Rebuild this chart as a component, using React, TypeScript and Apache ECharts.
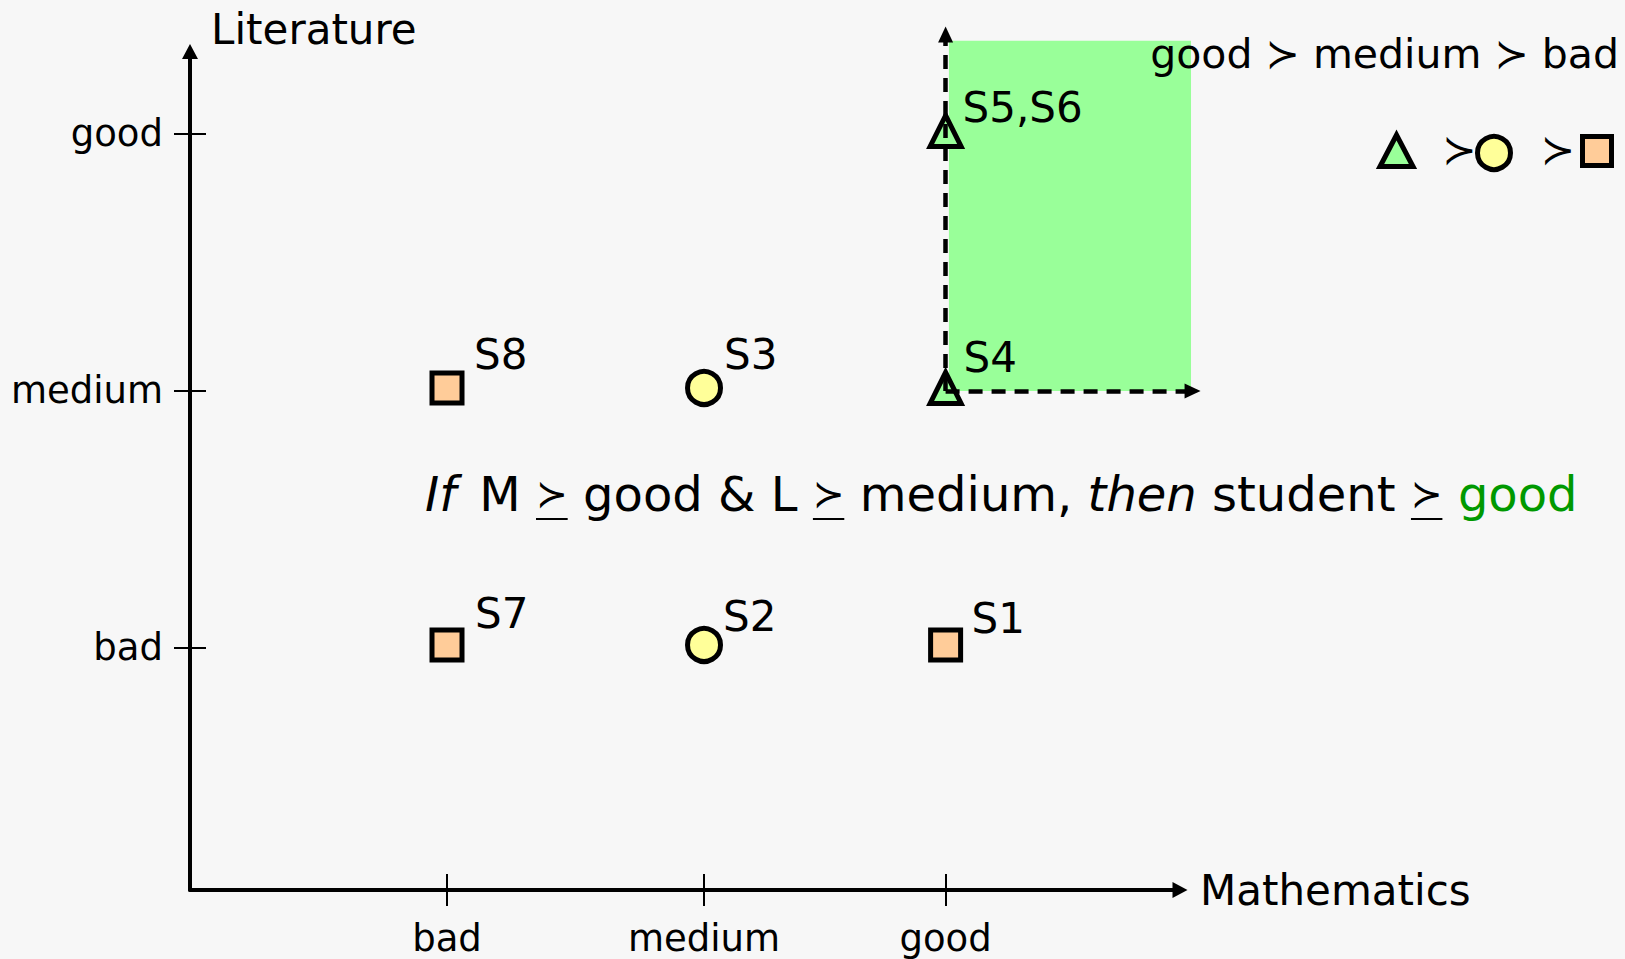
import React, { useEffect, useRef } from 'react';
import * as echarts from 'echarts';

// ---- data ----
const levels = ['bad', 'medium', 'good'];
// position of each level along the Mathematics axis
const mathLevelPos = [1, 2, 2.94];
// position of each level along the Literature axis
const litLevelPos = [1, 2, 3];

const students = ['S1', 'S2', 'S3', 'S4', 'S5', 'S6', 'S7', 'S8'];
const studentMath = ['good', 'medium', 'medium', 'good', 'good', 'good', 'bad', 'bad'];
const studentLit = ['bad', 'bad', 'medium', 'medium', 'good', 'good', 'bad', 'medium'];
const studentClass = ['bad', 'medium', 'medium', 'good', 'good', 'good', 'bad', 'bad'];

// rule region  (M >= good & L >= medium)
const ruleAreaMath = [2.953, 3.895];
const ruleAreaLit = [2, 3.362];
const ruleArrowEndMath = 3.901;
const ruleArrowEndLit = 3.387;

const axisMath = { min: 0, max: 3.852 };
const axisLit = { min: 0.058, max: 3.321 };
// wider frame (same scale) that holds the rule region and its arrows
const frameMath = { min: 0, max: 4 };
const frameLit = { min: 0.058, max: 3.5 };

// ---- styles ----
const FONT = 'DejaVu Sans';
const classStyle: Record<string, any> = {
  good: { symbol: 'triangle', size: [31, 31], color: '#99ff99' },
  medium: { symbol: 'circle', size: 33, color: '#ffff99' },
  bad: { symbol: 'rect', size: 30, color: '#ffcc99' },
};
const labelOffsets: Record<string, number[]> = {
  S1: [26, -26],
  S2: [19, -28],
  S3: [20, -33],
  S4: [18, -30],
  'S5,S6': [17, -23],
  S7: [28, -31],
  S8: [27, -33],
};

const RULE_FS = 48;
const RULE_SYM_FS = 38;
const RULE_LH = 58;
const underlineUri =
  'data:image/svg+xml;utf8,' +
  encodeURIComponent(
    `<svg xmlns="http://www.w3.org/2000/svg" width="10" height="${RULE_LH}" viewBox="0 0 10 ${RULE_LH}" preserveAspectRatio="none"><rect x="0" y="53" width="10" height="2" fill="#000"/></svg>`
  );

function levelName(v: number, pos: number[]) {
  let best = 0;
  for (let i = 0; i < pos.length; i++) {
    if (Math.abs(pos[i] - v) < Math.abs(pos[best] - v)) best = i;
  }
  return levels[best];
}

function buildSeriesData(cls: string) {
  const groups: { key: string; names: string[]; m: number; l: number }[] = [];
  students.forEach((s, i) => {
    if (studentClass[i] !== cls) return;
    const m = mathLevelPos[levels.indexOf(studentMath[i])];
    const l = litLevelPos[levels.indexOf(studentLit[i])];
    const key = m + '|' + l;
    const g = groups.find((x) => x.key === key);
    if (g) g.names.push(s);
    else groups.push({ key, names: [s], m, l });
  });
  return groups.map((g) => {
    const name = g.names.join(',');
    return {
      name,
      value: [g.m, g.l],
      label: { offset: labelOffsets[name] || [20, -28] },
    };
  });
}

export default function App() {
  const ref = useRef<HTMLDivElement>(null);
  useEffect(() => {
    if (!ref.current) return;
    const chart = echarts.init(ref.current, undefined, { renderer: 'svg' });

    const goodX = mathLevelPos[2];
    const medY = litLevelPos[1];

    const series: any[] = ['bad', 'medium', 'good'].map((cls) => {
      const st = classStyle[cls];
      return {
        type: 'scatter',
        name: cls,
        xAxisIndex: 0,
        yAxisIndex: 0,
        clip: false,
        symbol: st.symbol,
        symbolSize: st.size,
        symbolOffset: [0, -3],
        itemStyle: { color: st.color, borderColor: '#000', borderWidth: 5, opacity: 1 },
        label: {
          show: true,
          formatter: '{b}',
          position: 'inside',
          align: 'left',
          verticalAlign: 'middle',
          color: '#000',
          fontSize: 42,
          fontFamily: FONT,
        },
        emphasis: { disabled: true },
        data: buildSeriesData(cls),
        z: 3,
      };
    });

    series.push({
      type: 'scatter',
      name: 'rule',
      xAxisIndex: 2,
      yAxisIndex: 2,
      data: [],
      silent: true,
      markArea: {
        silent: true,
        itemStyle: { color: '#99ff99', opacity: 1, borderWidth: 0 },
        label: { show: false },
        data: [
          [
            { coord: [ruleAreaMath[0], ruleAreaLit[0]] },
            { coord: [ruleAreaMath[1], ruleAreaLit[1]] },
          ],
        ],
      },
      markLine: {
        silent: true,
        symbol: ['none', 'triangle'],
        symbolSize: [15, 16],
        label: { show: false },
        lineStyle: { color: '#000', type: [14, 9], width: 4.5, opacity: 1 },
        emphasis: { disabled: true },
        data: [
          [{ coord: [goodX, medY] }, { coord: [goodX, ruleArrowEndLit] }],
          [{ coord: [goodX, medY] }, { coord: [ruleArrowEndMath, medY] }],
        ],
      },
    });

    const tickStyle = { color: '#000', width: 2 };
    const hiddenAxis = {
      type: 'value',
      show: false,
      axisLine: { show: false, onZero: false },
      axisTick: { show: false },
      axisLabel: { show: false },
      splitLine: { show: false },
    };
    const option: any = {
      animation: false,
      backgroundColor: '#f7f7f7',
      grid: [
        { left: 190, right: 445, top: 51.5, bottom: 69, containLabel: false, outerBoundsMode: 'none' },
        { left: 190, right: 407, top: 5.406, bottom: 69, containLabel: false, outerBoundsMode: 'none' },
      ],
      xAxis: [
        {
          type: 'value',
          gridIndex: 0,
          min: axisMath.min,
          max: axisMath.max,
          position: 'bottom',
          axisLine: {
            show: true,
            onZero: false,
            lineStyle: { color: '#000', width: 4 },
            symbol: ['none', 'triangle'],
            symbolSize: [16, 15],
          },
          axisTick: { show: true, inside: false, length: 16, lineStyle: tickStyle, customValues: mathLevelPos },
          axisLabel: {
            customValues: mathLevelPos,
            formatter: (v: number) => levelName(v, mathLevelPos),
            fontSize: 37,
            fontFamily: FONT,
            color: '#000',
            margin: 30,
          },
          splitLine: { show: false },
          name: 'Mathematics',
          nameLocation: 'end',
          nameGap: 20,
          nameTextStyle: {
            fontSize: 42,
            fontFamily: FONT,
            color: '#000',
            align: 'left',
            verticalAlign: 'middle',
            padding: [0, 0, 4, 0],
          },
        },
        {
          type: 'value',
          gridIndex: 0,
          min: axisMath.min,
          max: axisMath.max,
          position: 'bottom',
          axisLine: { show: false, onZero: false },
          axisTick: { show: true, inside: true, length: 16, lineStyle: tickStyle, customValues: mathLevelPos },
          axisLabel: { show: false },
          splitLine: { show: false },
        },
        { ...hiddenAxis, gridIndex: 1, min: frameMath.min, max: frameMath.max },
      ],
      yAxis: [
        {
          type: 'value',
          gridIndex: 0,
          min: axisLit.min,
          max: axisLit.max,
          position: 'left',
          axisLine: {
            show: true,
            onZero: false,
            lineStyle: { color: '#000', width: 4 },
            symbol: ['none', 'triangle'],
            symbolSize: [16, 15],
          },
          axisTick: { show: true, inside: false, length: 16, lineStyle: tickStyle, customValues: litLevelPos },
          axisLabel: {
            customValues: litLevelPos,
            formatter: (v: number) => levelName(v, litLevelPos),
            fontSize: 37,
            fontFamily: FONT,
            color: '#000',
            margin: 27,
          },
          splitLine: { show: false },
          name: 'Literature',
          nameLocation: 'end',
          nameGap: 22.5,
          nameTextStyle: {
            fontSize: 42,
            fontFamily: FONT,
            color: '#000',
            align: 'left',
            verticalAlign: 'middle',
            padding: [0, 0, 0, 21],
          },
        },
        {
          type: 'value',
          gridIndex: 0,
          min: axisLit.min,
          max: axisLit.max,
          position: 'left',
          axisLine: { show: false, onZero: false },
          axisTick: { show: true, inside: true, length: 16, lineStyle: tickStyle, customValues: litLevelPos },
          axisLabel: { show: false },
          splitLine: { show: false },
        },
        { ...hiddenAxis, gridIndex: 1, min: frameLit.min, max: frameLit.max },
      ],
      series,
      graphic: [
        {
          type: 'text',
          x: 1619,
          y: 54,
          z: 20,
          silent: true,
          style: {
            text: 'good \u227B medium \u227B bad',
            align: 'right',
            verticalAlign: 'middle',
            fontSize: 41,
            fontFamily: FONT,
            fill: '#000',
          },
        },
        {
          type: 'polygon',
          z: 20,
          silent: true,
          shape: { points: [[1396.5, 135], [1380, 166.5], [1413, 166.5]] },
          style: { fill: '#99ff99', stroke: '#000', lineWidth: 5, lineJoin: 'miter' },
        },
        {
          type: 'text',
          x: 1459.5,
          y: 150,
          z: 20,
          silent: true,
          style: { text: '\u227B', align: 'center', verticalAlign: 'middle', fontSize: 41, fontFamily: FONT, fill: '#000' },
        },
        {
          type: 'circle',
          z: 20,
          silent: true,
          shape: { cx: 1494, cy: 153, r: 16.5 },
          style: { fill: '#ffff99', stroke: '#000', lineWidth: 5 },
        },
        {
          type: 'text',
          x: 1558,
          y: 150,
          z: 20,
          silent: true,
          style: { text: '\u227B', align: 'center', verticalAlign: 'middle', fontSize: 41, fontFamily: FONT, fill: '#000' },
        },
        {
          type: 'rect',
          z: 20,
          silent: true,
          shape: { x: 1582.5, y: 136.5, width: 29, height: 29 },
          style: { fill: '#ffcc99', stroke: '#000', lineWidth: 5 },
        },
        {
          type: 'text',
          x: 425,
          y: 494,
          z: 20,
          silent: true,
          style: {
            text:
              '{f|If}{n| M }{u|\u227B}{n| good & L }{u|\u227B}{n| medium, }{i|then}{n| student }{u|\u227B}{n| }{g|good}',
            align: 'left',
            verticalAlign: 'middle',
            fontSize: RULE_FS,
            fontFamily: FONT,
            fill: '#000',
            rich: {
              f: {
                fontSize: RULE_FS,
                lineHeight: RULE_LH,
                fontFamily: FONT,
                fontStyle: 'italic',
                fill: '#000',
                padding: [0, 8, 0, 0],
              },
              i: { fontSize: RULE_FS, lineHeight: RULE_LH, fontFamily: FONT, fontStyle: 'italic', fill: '#000' },
              n: { fontSize: RULE_FS, lineHeight: RULE_LH, fontFamily: FONT, fill: '#000' },
              u: {
                fontSize: RULE_SYM_FS,
                lineHeight: RULE_LH,
                height: RULE_LH,
                fontFamily: FONT,
                fill: '#000',
                backgroundColor: { image: underlineUri },
              },
              g: { fontSize: RULE_FS, lineHeight: RULE_LH, fontFamily: FONT, fill: '#009900' },
            },
          },
        },
      ],
    };
    chart.setOption(option);
    return () => chart.dispose();
  }, []);

  return (
    <div
      ref={ref}
      style={{ position: 'absolute', left: 0, top: 0, width: 1625, height: 959 }}
    />
  );
}
